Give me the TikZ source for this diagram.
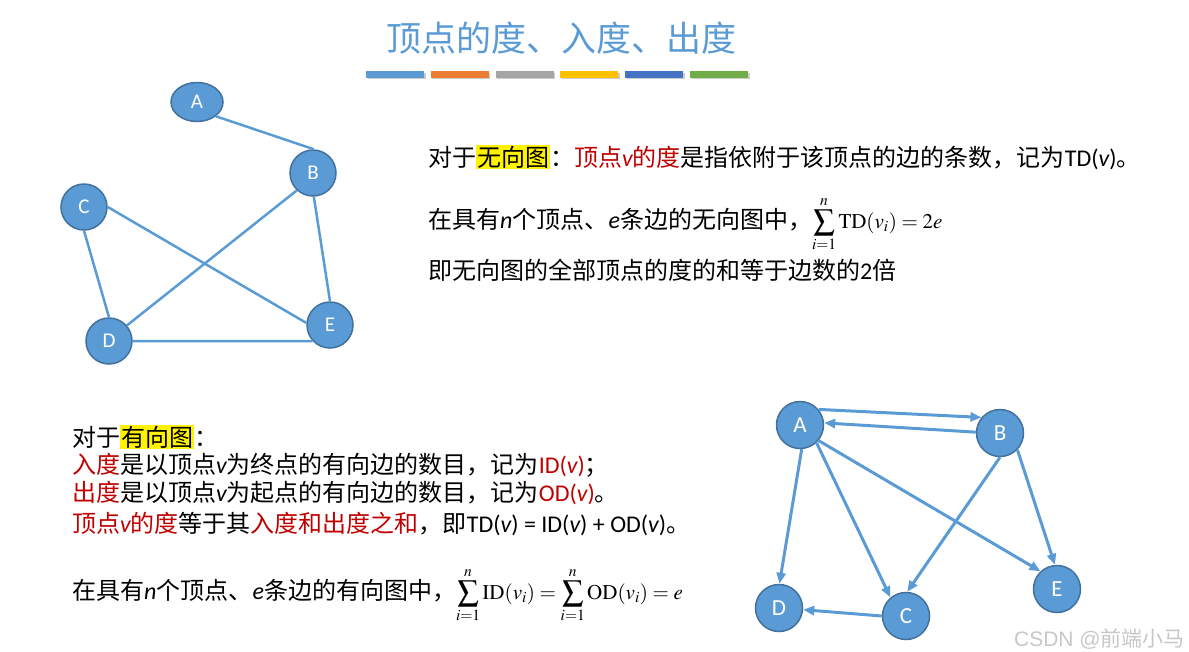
\documentclass[tikz,border=0pt]{standalone}
\usepackage{mathptmx}
\usepackage[no-math]{fontspec}
\setmainfont{Noto Sans CJK SC}
\newfontfamily\lat{Carlito}
\newfontfamily\wmfont{Liberation Sans}
\usepackage{xcolor}
\usepackage{tikz}
\usetikzlibrary{positioning, shapes.geometric, arrows.meta}

\definecolor{vblue}{HTML}{5B9BD5}
\definecolor{vborder}{HTML}{41719C}
\definecolor{hlred}{HTML}{C00000}
\definecolor{barA}{HTML}{5B9BD5}
\definecolor{barB}{HTML}{ED7D31}
\definecolor{barC}{HTML}{A5A5A5}
\definecolor{barD}{HTML}{FFC000}
\definecolor{barE}{HTML}{4472C4}
\definecolor{barF}{HTML}{70AD47}

\newcommand{\vvar}{{\lat\itshape v}}
\newcommand{\rtext}[1]{{\color{hlred}#1}}
\newcommand{\hlbox}[1]{{\setlength{\fboxsep}{1pt}\colorbox{yellow}{#1}}}
\newcommand{\fml}[1]{{\fontsize{21}{21}\selectfont$\displaystyle #1$}}

\begin{document}
\begin{tikzpicture}[x=1pt, y=-1pt,
  vtx/.style={circle, draw=vborder, fill=vblue, line width=1.5pt, minimum size=46pt, inner sep=0pt, text=white, font=\lat\fontsize{21}{21}\selectfont},
  bigvtx/.style={vtx, minimum size=47pt, font=\lat\fontsize{23}{23}\selectfont},
  uline/.style={vblue, line width=2.5pt},
  darc/.style={vblue, line width=3pt, -{Triangle[length=11pt,width=9pt]}},
  txt/.style={anchor=base west, inner sep=0pt, font=\fontsize{24}{28}\selectfont}]
\useasboundingbox (0,0) rectangle (1189,651);

% title and colour bars
\node[font=\fontsize{35}{35}\selectfont, text=vblue] (title) at (561,38) {顶点的度、入度、出度};
\foreach \c [count=\i from 0] in {barA,barB,barC,barD,barE,barF} {
  \fill[black!20] (367.5+64.8*\i,72.5) rectangle ++(58,6.5);
  \fill[\c] (366+64.8*\i,71) rectangle ++(58,6.5);
}

% undirected graph
\node[vtx, ellipse, minimum width=52pt, minimum height=39pt] (uA) at (197,102) {A};
\node[vtx] (uB) at (313,173) {B};
\node[vtx] (uC) at (84,207) {C};
\node[vtx] (uD) at (109,341) {D};
\node[vtx] (uE) at (330,325) {E};

\draw[uline] (uA.-37) -- (uB.88);
\draw[uline] (uB.-133) -- (uD.41);
\draw[uline] (uB.-88) -- (uE.90);
\draw[uline] (uC.-90) -- (uD.90);
\draw[uline] (uC.0) -- (uE.175);
\draw[uline] (uD.0) -- (uE.-137);

% text for the undirected graph
\node[txt] (u1) at (428,166) {对于\hlbox{无向图}：\rtext{顶点\vvar 的度}是指依附于该顶点的边的条数，记为{\lat TD(\vvar)}。};
\node[txt] (u2) at (428,228) {在具有{\lat\itshape n}个顶点、{\lat\itshape e}条边的无向图中，\fml{\sum_{i=1}^{n}\mathrm{TD}(v_i)=2e}};
\node[txt] (u3) at (428,279) {即无向图的全部顶点的度的和等于边数的{\lat 2}倍};

% text for the directed graph
\node[txt] (l1) at (72,446) {对于\hlbox{有向图}：};
\node[txt] (l2) at (72,473) {\rtext{入度}是以顶点\vvar 为终点的有向边的数目，记为\rtext{\lat ID(\vvar)}；};
\node[txt] (l3) at (72,501) {\rtext{出度}是以顶点\vvar 为起点的有向边的数目，记为\rtext{\lat OD(\vvar)}。};
\node[txt] (l4) at (72,532) {\rtext{顶点\vvar 的度}等于其\rtext{入度和出度之和}，即{\lat TD(\vvar) = ID(\vvar) + OD(\vvar)}。};
\node[txt] (l5) at (72,599) {在具有{\lat\itshape n}个顶点、{\lat\itshape e}条边的有向图中，\fml{\sum_{i=1}^{n}\mathrm{ID}(v_i)=\sum_{i=1}^{n}\mathrm{OD}(v_i)=e}};

% directed graph
\node[bigvtx] (dA) at (800,425) {A};
\node[bigvtx] (dB) at (1000,433) {B};
\node[bigvtx] (dC) at (906,616) {C};
\node[bigvtx] (dD) at (779,608) {D};
\node[bigvtx] (dE) at (1057,589) {E};

\draw[darc] (dA.40) -- (dB.140);
\draw[darc] (dB.178) -- (dA.5);
\draw[darc] (dA.-86) -- (dD.89);
\draw[darc] (dA.-47) -- (dC.130);
\draw[darc] (dA.-40) -- (dE.133);
\draw[darc] (dB.-90) -- (dC.87);
\draw[darc] (dB.-44) -- (dE.95);
\draw[darc] (dC.180) -- (dD.-4);

\node[anchor=base east, inner sep=0pt, text=black!22, font=\fontsize{21}{21}\selectfont] (wm) at (1185,646) {{\wmfont CSDN @}前端小马};
\end{tikzpicture}
\end{document}
